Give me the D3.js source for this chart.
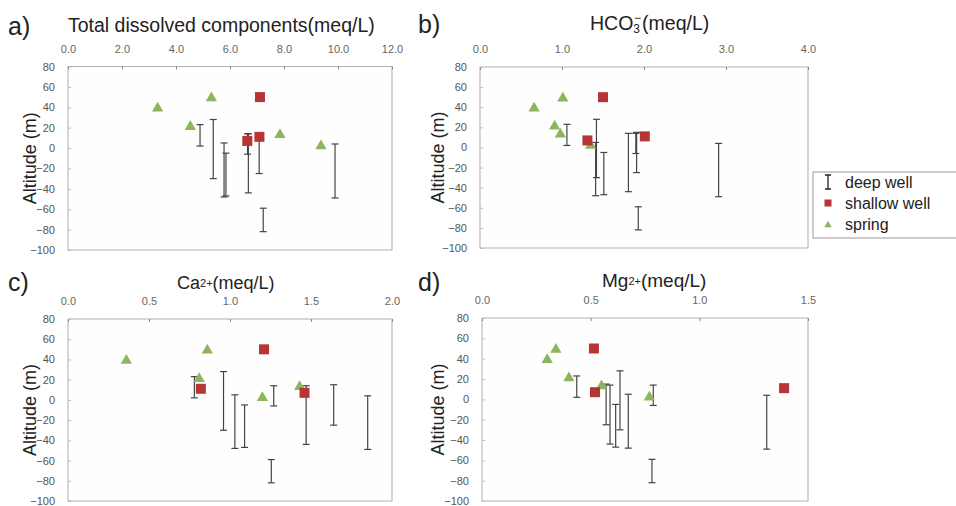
<!doctype html>
<html>
  <head>
    <meta charset="utf-8">
    <title>Altitude vs components</title>
    <script src="https://cdn.jsdelivr.net/npm/d3@7"></script>
    <style>
      body { margin: 0; background: #fff; }
      text { font-family: "Liberation Sans", Arial, sans-serif; }
    </style>
  </head>
  <body>
    <script>
      // deep wells: screen top / bottom altitude (m)
      const wellTop = [23, 28, 5, -5, 14, 14, 15, -59, 4];
      const wellBottom = [2, -30, -48, -47, -44, -6, -25, -82, -49];
      const wellTotal = [4.89, 5.38, 5.78, 5.85, 6.68, 6.65, 7.08, 7.23, 9.89];
      const wellHCO3 = [1.06, 1.42, 1.41, 1.51, 1.81, 1.90, 1.91, 1.93, 2.91];
      const wellCa = [0.78, 0.96, 1.03, 1.09, 1.47, 1.27, 1.64, 1.255, 1.85];
      const wellMg = [0.436, 0.635, 0.673, 0.615, 0.589, 0.788, 0.571, 0.782, 1.31];

      // shallow wells
      const shallowAlt = [50, 11, 7];
      const shallowTotal = [7.11, 7.09, 6.64];
      const shallowHCO3 = [1.50, 2.01, 1.31];
      const shallowCa = [1.21, 0.82, 1.46];
      const shallowMg = [0.515, 1.39, 0.52];

      // springs
      const springAlt = [40, 22, 50, 14, 3];
      const springTotal = [3.32, 4.53, 5.31, 7.85, 9.37];
      const springHCO3 = [0.66, 0.91, 1.01, 0.98, 1.35];
      const springCa = [0.36, 0.81, 0.86, 1.43, 1.20];
      const springMg = [0.30, 0.40, 0.34, 0.55, 0.77];

      const altTicks = [80, 60, 40, 20, 0, -20, -40, -60, -80, -100];

      const svg = d3.select('body').append('svg')
          .attr('width', 956)
          .attr('height', 506);

      const panels = [
        { letter: 'a)', x0: 68, x1: 392, y0: 66.5, y1: 250, max: 12, step: 2,
          well: wellTotal, shallow: shallowTotal, spring: springTotal,
          title: 'total', fs: 19.5, tx: 68, ty: 32, lx: 8, ly: 35, ax: 30 },
        { letter: 'b)', x0: 480, x1: 808, y0: 67, y1: 248, max: 4, step: 1,
          well: wellHCO3, shallow: shallowHCO3, spring: springHCO3,
          title: 'hco3', fs: 19.5, tx: 590, ty: 30, lx: 418, ly: 33, ax: 438 },
        { letter: 'c)', x0: 68, x1: 392, y0: 319, y1: 501, max: 2, step: 0.5,
          well: wellCa, shallow: shallowCa, spring: springCa,
          title: 'ca', fs: 18, tx: 177, ty: 289, lx: 8, ly: 291, ax: 30 },
        { letter: 'd)', x0: 482, x1: 808, y0: 318, y1: 501, max: 1.5, step: 0.5,
          well: wellMg, shallow: shallowMg, spring: springMg,
          title: 'mg', fs: 19, tx: 602, ty: 287, lx: 418, ly: 291, ax: 438 }
      ];

      const squareColor = '#b93434';
      const triColor = '#8db55d';
      const barColor = '#444';

      function drawTitle(g, p) {
        const t = g.append('text')
            .attr('x', p.tx)
            .attr('y', p.ty)
            .attr('font-size', p.fs)
            .attr('fill', '#222');
        if (p.title === 'total') {
          t.text('Total dissolved components(meq/L)');
        } else if (p.title === 'hco3') {
          t.append('tspan').text('HCO');
          t.append('tspan').attr('font-size', 12).attr('dy', 3).text('3');
          t.append('tspan').attr('font-size', 12).attr('dx', -6).attr('dy', -11).text('−');
          t.append('tspan').attr('dy', 8).attr('dx', 1).text('(meq/L)');
        } else {
          t.append('tspan').text(p.title === 'ca' ? 'Ca' : 'Mg');
          t.append('tspan').attr('font-size', 11).attr('dy', -2).text('2+');
          t.append('tspan').attr('dy', 2).text('(meq/L)');
        }
      }

      panels.forEach(p => {
        const g = svg.append('g');

        const x = d3.scaleLinear().domain([0, p.max]).range([p.x0, p.x1]);
        const y = d3.scaleLinear().domain([-100, 80]).range([p.y1, p.y0]);

        g.append('rect')
            .attr('x', p.x0).attr('y', p.y0)
            .attr('width', p.x1 - p.x0).attr('height', p.y1 - p.y0)
            .attr('fill', '#fefefe')
            .attr('stroke', '#b0b0b0');

        const xTicks = d3.range(0, p.max + p.step / 2, p.step);
        const xAxis = g.append('g')
            .attr('transform', `translate(0,${p.y0})`)
            .call(d3.axisTop(x).tickValues(xTicks).tickFormat(d3.format('.1f'))
              .tickSizeInner(-3).tickSizeOuter(0).tickPadding(14));
        xAxis.select('.domain').remove();
        xAxis.selectAll('line').attr('stroke', '#888');
        xAxis.selectAll('text').attr('font-size', 11).attr('fill', '#666');

        const yAxis = g.append('g')
            .attr('transform', `translate(${p.x0},0)`)
            .call(d3.axisLeft(y).tickValues(altTicks)
              .tickSizeInner(-3).tickSizeOuter(0).tickPadding(13));
        yAxis.select('.domain').remove();
        yAxis.selectAll('line').attr('stroke', '#bbb');
        yAxis.selectAll('text').attr('font-size', 11).attr('fill', '#555');

        // deep well screen ranges
        const bars = g.append('g').selectAll('g')
          .data(p.well.map((v, i) => ({ v, top: wellTop[i], bottom: wellBottom[i] })))
          .join('g')
            .attr('stroke', barColor)
            .attr('stroke-width', 1.2);
        bars.append('line')
            .attr('x1', d => x(d.v)).attr('x2', d => x(d.v))
            .attr('y1', d => y(d.top)).attr('y2', d => y(d.bottom));
        bars.append('line')
            .attr('x1', d => x(d.v) - 3.5).attr('x2', d => x(d.v) + 3.5)
            .attr('y1', d => y(d.top)).attr('y2', d => y(d.top));
        bars.append('line')
            .attr('x1', d => x(d.v) - 3.5).attr('x2', d => x(d.v) + 3.5)
            .attr('y1', d => y(d.bottom)).attr('y2', d => y(d.bottom));

        // springs
        g.append('g').selectAll('path')
          .data(p.spring.map((v, i) => ({ v, alt: springAlt[i] })))
          .join('path')
            .attr('transform', d => `translate(${x(d.v)},${y(d.alt) + 1})`)
            .attr('d', d3.symbol(d3.symbolTriangle, 55))
            .attr('fill', triColor);

        // shallow wells
        g.append('g').selectAll('rect')
          .data(p.shallow.map((v, i) => ({ v, alt: shallowAlt[i] })))
          .join('rect')
            .attr('x', d => x(d.v) - 5).attr('y', d => y(d.alt) - 5)
            .attr('width', 10).attr('height', 10)
            .attr('fill', squareColor);

        g.append('text')
            .attr('x', p.lx).attr('y', p.ly)
            .attr('font-size', 25)
            .attr('fill', '#222')
            .text(p.letter);

        drawTitle(g, p);

        g.append('text')
            .attr('transform', `translate(${p.ax},${(p.y0 + p.y1) / 2}) rotate(-90)`)
            .attr('text-anchor', 'middle')
            .attr('dy', '0.35em')
            .attr('font-size', 18)
            .attr('fill', '#222')
            .text('Altitude (m)');
      });

      // legend
      const legend = svg.append('g').attr('transform', 'translate(813,172)');
      legend.append('rect')
          .attr('width', 145).attr('height', 66)
          .attr('fill', '#fff').attr('stroke', '#999');
      const items = ['deep well', 'shallow well', 'spring'];
      items.forEach((name, i) => {
        const cy = 10 + i * 21;
        const row = legend.append('g').attr('transform', `translate(15,${cy})`);
        if (i === 0) {
          row.append('path')
              .attr('d', 'M-3,-7H3M0,-7V7M-3,7H3')
              .attr('stroke', '#222').attr('stroke-width', 1.3).attr('fill', 'none');
        } else if (i === 1) {
          row.append('rect').attr('x', -3.5).attr('y', -3.5)
              .attr('width', 7).attr('height', 7).attr('fill', squareColor);
        } else {
          row.append('path')
              .attr('transform', 'translate(0,1)')
              .attr('d', d3.symbol(d3.symbolTriangle, 24))
              .attr('fill', triColor);
        }
        legend.append('text')
            .attr('x', 32).attr('y', cy)
            .attr('dy', '0.35em')
            .attr('font-size', 16)
            .attr('fill', '#222')
            .text(name);
      });
    </script>
  </body>
</html>
